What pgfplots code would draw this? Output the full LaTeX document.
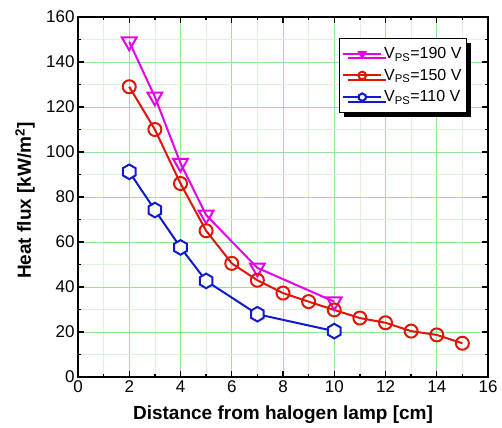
\documentclass[border=0pt]{standalone}
\usepackage{pgfplots}
\pgfplotsset{compat=1.18}
\usepackage{fontspec}
\setmainfont{Liberation Sans}
\usetikzlibrary{shadows,plotmarks}
\definecolor{gridmaj}{RGB}{150,228,150}
\definecolor{gridmin}{RGB}{220,242,220}
\definecolor{cmag}{RGB}{230,0,230}
\definecolor{cred}{RGB}{225,20,10}
\definecolor{cblue}{RGB}{15,25,205}
% pointy-top hexagon mark
\pgfdeclareplotmark{hexa}{%
  \pgfpathmoveto{\pgfqpointpolar{90}{\pgfplotmarksize}}%
  \pgfpathlineto{\pgfqpointpolar{150}{\pgfplotmarksize}}%
  \pgfpathlineto{\pgfqpointpolar{210}{\pgfplotmarksize}}%
  \pgfpathlineto{\pgfqpointpolar{270}{\pgfplotmarksize}}%
  \pgfpathlineto{\pgfqpointpolar{330}{\pgfplotmarksize}}%
  \pgfpathlineto{\pgfqpointpolar{30}{\pgfplotmarksize}}%
  \pgfpathclose
  \pgfusepathqfillstroke}
\begin{document}
\begin{tikzpicture}
\begin{axis}[
    name=ax,
    scale only axis,
    width=410pt, height=360pt,
    xmin=0, xmax=16, ymin=0, ymax=160,
    xtick={0,2,...,16}, ytick={0,20,...,160},
    minor x tick num=1, minor y tick num=1,
    tick align=inside,
    major tick length=6pt, minor tick length=3.5pt,
    tick style={black, line width=1.3pt},
    axis line style={line width=1.8pt},
    grid=both,
    major grid style={gridmaj, line width=0.9pt},
    minor grid style={gridmin, line width=0.6pt},
    /pgf/number format/assume math mode=true,
    tick label style={font=\fontsize{17}{19}\selectfont},
    xlabel={\textbf{Distance from halogen lamp [cm]}},
    ylabel={\textbf{Heat flux [kW/m\textsuperscript{2}]}},
    label style={font=\fontsize{19}{21}\selectfont},
    xlabel style={at={(axis description cs:0.5,-0.105)}, anchor=center},
    ylabel style={at={(axis description cs:-0.129,0.49)}, anchor=center},
    legend style={at={(rel axis cs:0.949,0.942)}, anchor=north east,
        draw=black, line width=1.2pt, fill=white,
        drop shadow={shadow xshift=4.5pt, shadow yshift=-4.5pt, fill=black, opacity=1},
        font=\fontsize{16}{18}\selectfont, row sep=5pt,
        inner xsep=3pt, inner ysep=7pt},
    legend cell align=left,
    legend image code/.code={%
        \draw[mark repeat=2, mark phase=2, mark size=3.8pt]
        plot coordinates {(0pt,0pt) (19pt,0pt) (38pt,0pt)};},
    every axis plot/.append style={line width=2pt},
]
\addplot[cmag, mark=triangle, mark size=8.5pt, mark options={rotate=180, fill=white}] coordinates {
    (2,149) (3,124.5) (4,95) (5,72) (7,48.5) (10,33.5)
};
\addlegendentry{V\textsubscript{PS}=190 V}
\addplot[cred, mark=o, mark size=6.5pt, mark options={fill=white}] coordinates {
    (2,129) (3,110) (4,86) (5,65) (6,50.5) (7,43) (8,37.3) (9,33.5)
    (10,29.8) (11,26.2) (12,24.1) (13,20.4) (14,18.7) (15,15)
};
\addlegendentry{V\textsubscript{PS}=150 V}
\addplot[cblue, mark=hexa, mark size=7.3pt, mark options={fill=white}] coordinates {
    (2,91.2) (3,74.2) (4,57.6) (5,42.7) (7,27.9) (10,20.4)
};
\addlegendentry{V\textsubscript{PS}=110 V}
\end{axis}
% page margins as in the reference
\useasboundingbox ([shift={(-78pt,-49pt)}]ax.south west) rectangle ([shift={(14pt,17pt)}]ax.north east);
\end{tikzpicture}
\end{document}
